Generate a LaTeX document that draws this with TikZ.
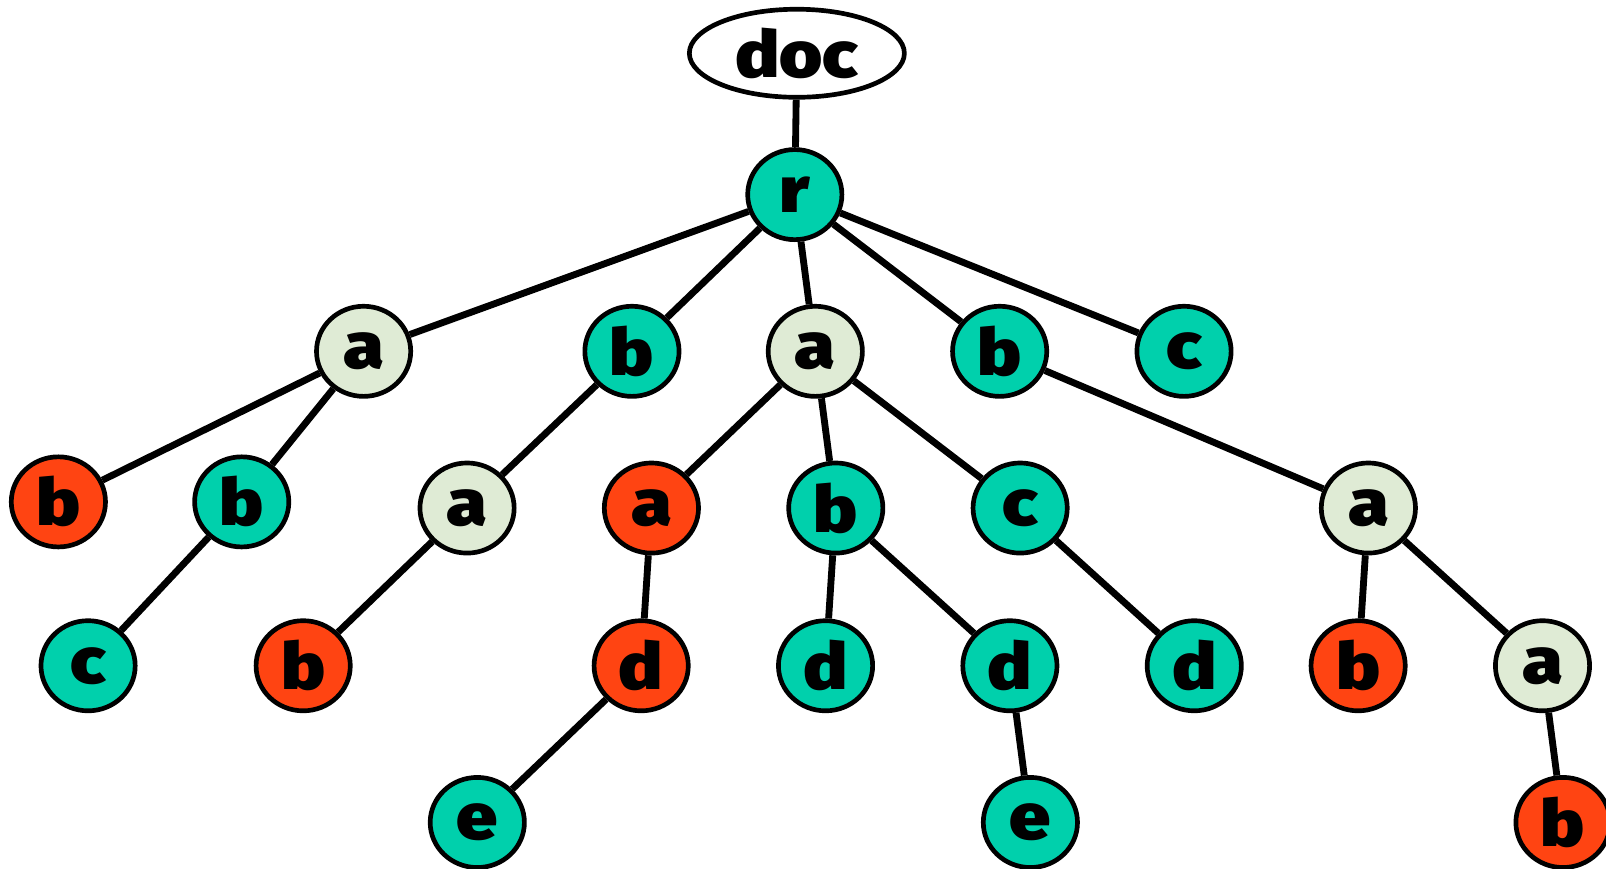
\documentclass[tikz,border=0pt]{standalone}
\usepackage{fontspec}
\newfontfamily\nodefont{Fira Sans Black}
\usetikzlibrary{shapes.geometric}

\definecolor{tealc}{RGB}{0,208,172}
\definecolor{redc}{RGB}{255,68,18}
\definecolor{palec}{RGB}{223,235,213}

% wide heavy letters
\newcommand{\wide}[1]{\scalebox{1.14}[1]{#1}}

\tikzset{
  knot/.style={ellipse, draw, line width=2.6pt, inner sep=0pt,
    minimum width=1.84cm, minimum height=1.76cm,
    font=\nodefont\fontsize{36}{36}\selectfont},
  tn/.style={knot, fill=tealc},
  rn/.style={knot, fill=redc},
  pn/.style={knot, fill=palec},
  link/.style={line width=3.8pt}
}

\begin{document}
\begin{tikzpicture}[x=0.02cm,y=-0.02cm]
\useasboundingbox (0,0) rectangle (1568,848.4);

\node[knot, fill=white, minimum width=4.2cm, minimum height=1.72cm] (doc) at (778,52) {\wide{doc}};
\node[tn] (r) at (776,190) {\wide{r}};

\node[pn] (a1) at (355,343) {\wide{a}};
\node[tn] (b1) at (617,343) {\wide{b}};
\node[pn] (a2) at (796,343) {\wide{a}};
\node[tn] (b2) at (976,343) {\wide{b}};
\node[tn] (c1) at (1156,343) {\wide{c}};

\node[rn] (b3) at (57,490) {\wide{b}};
\node[tn] (b4) at (236,490) {\wide{b}};
\node[pn] (a3) at (456,496) {\wide{a}};
\node[rn] (a4) at (636,496) {\wide{a}};
\node[tn] (b5) at (816,496) {\wide{b}};
\node[tn] (c2) at (996,496) {\wide{c}};
\node[pn] (a5) at (1336,496) {\wide{a}};

\node[tn] (c3) at (86,650) {\wide{c}};
\node[rn] (b6) at (296,650) {\wide{b}};
\node[rn] (d1) at (626,650) {\wide{d}};
\node[tn] (d2) at (806,650) {\wide{d}};
\node[tn] (d3) at (986,650) {\wide{d}};
\node[tn] (d4) at (1166,650) {\wide{d}};
\node[rn] (b7) at (1326,650) {\wide{b}};
\node[pn] (a6) at (1506,650) {\wide{a}};

\node[tn] (e1) at (466,803) {\wide{e}};
\node[tn] (e2) at (1006,803) {\wide{e}};
\node[rn] (b8) at (1526,803) {\wide{b}};

\draw[link] (doc) -- (r);
\draw[link] (r) -- (a1);
\draw[link] (r) -- (b1);
\draw[link] (r) -- (a2);
\draw[link] (r) -- (b2);
\draw[link] (r) -- (c1);

\draw[link] (a1) -- (b3);
\draw[link] (a1) -- (b4);
\draw[link] (b4) -- (c3);
\draw[link] (b1) -- (a3);
\draw[link] (a3) -- (b6);

\draw[link] (a2) -- (a4);
\draw[link] (a2) -- (b5);
\draw[link] (a2) -- (c2);
\draw[link] (a4) -- (d1);
\draw[link] (d1) -- (e1);
\draw[link] (b5) -- (d2);
\draw[link] (b5) -- (d3);
\draw[link] (d3) -- (e2);
\draw[link] (c2) -- (d4);

\draw[link] (b2) -- (a5);
\draw[link] (a5) -- (b7);
\draw[link] (a5) -- (a6);
\draw[link] (a6) -- (b8);
\end{tikzpicture}
\end{document}
